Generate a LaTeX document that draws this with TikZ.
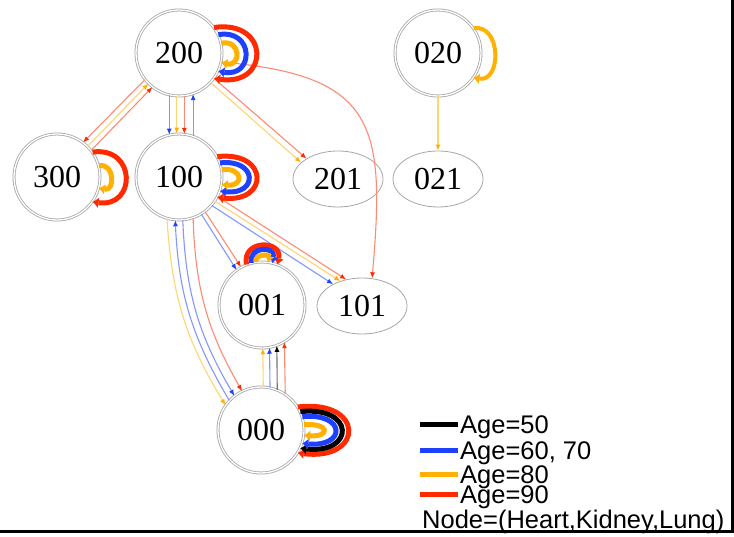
\documentclass[tikz,border=0pt]{standalone}
\usepackage{fontspec}
\setmainfont{Liberation Serif}
\newfontfamily\keyfont{Liberation Sans}
\usetikzlibrary{arrows.meta,shapes.geometric}
\definecolor{cRed} {HTML}{FF2A00}
\definecolor{cBlue}{HTML}{1E40FF}
\definecolor{cOrng}{HTML}{FFB000}
\definecolor{cBlk} {HTML}{000000}
\tikzset{
  st/.style={draw=gray!70,line width=0.8pt,inner sep=0pt,
             font=\fontsize{32}{34}\selectfont},
  sc/.style={st,circle,double=white,double distance=1.3pt,minimum size=86pt},
  se/.style={st,ellipse,minimum width=90pt,minimum height=56pt},
  tr/.style={draw=#1!55,line width=1.1pt,-{Latex[length=6pt,width=5pt,color=#1]}},
  lp/.style={draw=#1,line width=5pt,
             -{Latex[length=6pt,width=10pt,color=#1,line width=0pt]}},
  ky/.style={draw=#1,line width=5pt},
  kt/.style={anchor=base west,inner sep=0pt,
             font=\keyfont\fontsize{25.5}{28}\selectfont},
}

\begin{document}
\begin{tikzpicture}[x=1pt,y=-1pt]
  \useasboundingbox (0,0) rectangle (734,537);
  % states (Heart,Kidney,Lung)
  \node[sc] (n200) at (179,53)  {200};
  \node[sc] (n020) at (438,53)  {020};
  \node[sc] (n300) at (57,177)  {300};
  \node[sc] (n100) at (179,177) {100};
  \node[se] (n201) at (338,179) {201};
  \node[se] (n021) at (438,179) {021};
  \node[sc] (n001) at (262,305) {001};
  \node[se] (n101) at (362,306) {101};
  \node[sc] (n000) at (261,430) {000};

  % transitions
  \draw[tr=cBlue] (n200.257) -- (n100.103);
  \draw[tr=cOrng] (n200.267) -- (n100.93);
  \draw[tr=cRed]  (n200.277) -- (n100.83);
  \draw[tr=cBlue] (n100.71) -- (n200.289);

  \draw[tr=cRed]  (n200.218) -- (n300.53);
  \draw[tr=cOrng] (n300.45) -- (n200.225);
  \draw[tr=cRed]  (n300.38) -- (n200.232);

  \draw[tr=cRed]  (n200.-36) -- (n201.147);
  \draw[tr=cOrng] (n200.-43) -- (n201.156);
  \draw[tr=cRed]  (n200.-12) to[out=-5,in=85,looseness=1.5] (n101.70);

  \draw[tr=cRed]  (n100.-27) -- (n101.121);
  \draw[tr=cOrng] (n100.-34) -- (n101.131);
  \draw[tr=cBlue] (n100.-41) -- (n101.143);

  \draw[tr=cBlue] (n100.-59) -- (n001.126);
  \draw[tr=cRed]  (n100.-53) -- (n001.119);

  \draw[tr=cOrng] (n100.254) to[bend right=14] (n000.145);
  \draw[tr=cBlue] (n000.137) to[bend left=14] (n100.265);
  \draw[tr=cBlue] (n100.275) to[bend right=14] (n000.128);
  \draw[tr=cRed]  (n100.289) to[bend right=14] (n000.116);

  \draw[tr=cOrng] (n000.87) -- (n001.271);
  \draw[tr=cBlue] (n000.78) -- (n001.280);
  \draw[tr=cBlk]  (n000.68) -- (n001.290);
  \draw[tr=cRed]  (n000.56) -- (n001.301);

  \draw[tr=cOrng] (n020) -- (n021);

  % self loops
  \draw[lp=cRed]  (n200.36) .. controls +(56,-8) and +(56,8) .. (n200.-36);
  \draw[lp=cBlue] (n200.25) .. controls +(36,-6) and +(36,6) .. (n200.-25);
  \draw[lp=cOrng] (n200.13) .. controls +(20,-4) and +(20,4) .. (n200.-13);

  \draw[lp=cRed]  (n300.35) .. controls +(44,-6) and +(44,6) .. (n300.-35);
  \draw[lp=cOrng] (n300.15) .. controls +(16,-3) and +(16,3) .. (n300.-15);

  \draw[lp=cRed]  (n100.28) .. controls +(52,-6) and +(52,6) .. (n100.-28);
  \draw[lp=cBlue] (n100.19) .. controls +(38,-4) and +(38,4) .. (n100.-19);
  \draw[lp=cOrng] (n100.10) .. controls +(22,-2) and +(22,2) .. (n100.-10);

  \draw[lp=cRed]  (n001.111) .. controls +(-5,-25) and +(5,-25) .. (n001.69);
  \draw[lp=cBlue] (n001.104) .. controls +(-3,-17) and +(3,-17) .. (n001.76);
  \draw[lp=cOrng] (n001.98) .. controls +(-2,-8) and +(2,-8) .. (n001.82);

  \draw[lp=cRed]  (n000.32) .. controls +(67,-8) and +(67,8) .. (n000.-32);
  \draw[lp=cBlk]  (n000.25) .. controls +(55,-6) and +(55,6) .. (n000.-25);
  \draw[lp=cBlue] (n000.18) .. controls +(44,-4) and +(44,4) .. (n000.-18);
  \draw[lp=cOrng] (n000.7) .. controls +(26,-2) and +(26,2) .. (n000.-7);

  \draw[lp=cOrng,line width=4pt] (n020.35) .. controls +(28,-4) and +(28,4) .. (n020.-35);

  % key
  \draw[ky=cBlk]  (420,424) -- (458,424);
  \draw[ky=cBlue] (420,450) -- (458,450);
  \draw[ky=cOrng] (420,474) -- (458,474);
  \draw[ky=cRed]  (420,494) -- (458,494);
  \node[kt] (k50) at (460,433) {Age=50};
  \node[kt] (k60) at (460,459) {Age=60, 70};
  \node[kt] (k80) at (460,483) {Age=80};
  \node[kt] (k90) at (460,503) {Age=90};
  \node[kt] (knd) at (422,528) {Node=(Heart,Kidney,Lung)};

  % frame
  \draw[line width=2.5pt] (0,531.5) -- (733.5,531.5);
  \draw[line width=2.5pt] (732.5,0) -- (732.5,532.5);
\end{tikzpicture}
\end{document}
